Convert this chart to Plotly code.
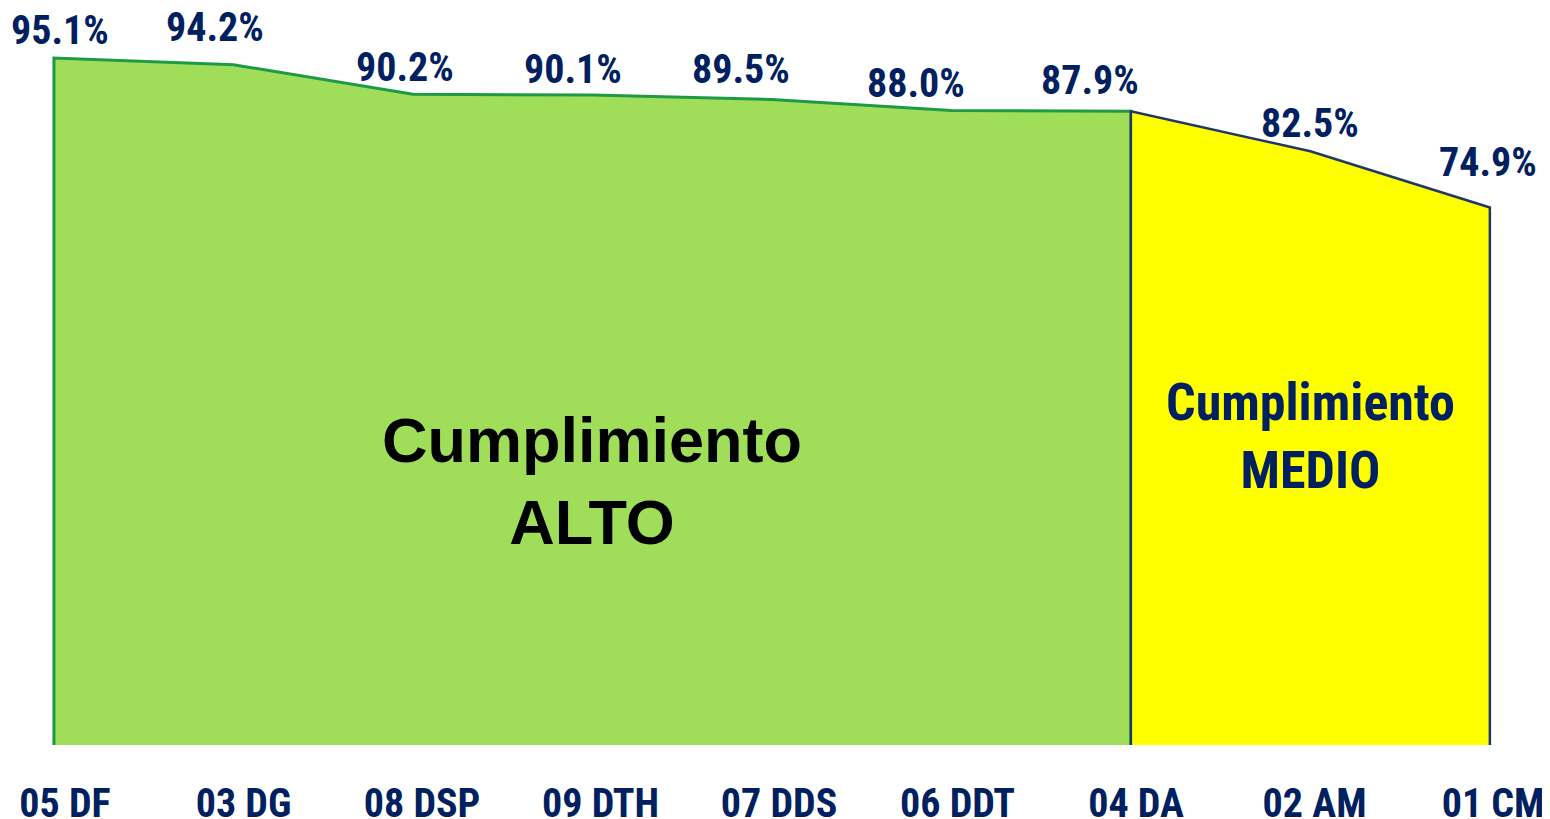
import plotly.graph_objects as go

categories = ["05 DF", "03 DG", "08 DSP", "09 DTH", "07 DDS", "06 DDT", "04 DA", "02 AM", "01 CM"]
values = [95.1, 94.2, 90.2, 90.1, 89.5, 88.0, 87.9, 82.5, 74.9]
labels = ["95.1%", "94.2%", "90.2%", "90.1%", "89.5%", "88.0%", "87.9%", "82.5%", "74.9%"]
alto_end = 6  # index of last "ALTO" category (04 DA)

# layout constants (page has an 8px body margin)
Y_MIN = 2.26
Y_MAX = 101.86
X_MIN = -0.256
X_MAX = 8.335
X2_MIN = -0.3193
X2_MAX = 8.319
NAVY = "#002060"
LABEL_FONT = "Liberation Sans Narrow, Arial Narrow, Roboto Condensed, Liberation Sans, Arial"
# per-label pixel offsets (style)
label_dx = [6, -18, -8, -19, -31, -35, -41, 0, -2]
label_dy = [28, 37, 27, 26, 30, 27, 31, 28, 45]

xs = list(range(len(categories)))

fig = go.Figure()

# Green (ALTO) polygon
gx = [xs[0]] + xs[:alto_end + 1] + [xs[alto_end]]
gy = [Y_MIN] + values[:alto_end + 1] + [Y_MIN]
fig.add_trace(go.Scatter(
    x=gx, y=gy, mode="lines", fill="toself",
    fillcolor="#A0DE5A", line=dict(color="#1E9A46", width=3),
    hoverinfo="skip", showlegend=False))

# Yellow (MEDIO) polygon
yx = [xs[alto_end]] + xs[alto_end:] + [xs[-1]]
yy = [Y_MIN] + values[alto_end:] + [Y_MIN]
fig.add_trace(go.Scatter(
    x=yx, y=yy, mode="lines", fill="toself",
    fillcolor="#FFFF00", line=dict(color="#1F3864", width=2.5),
    hoverinfo="skip", showlegend=False))

# invisible trace to carry the category axis
fig.add_trace(go.Scatter(
    x=xs, y=values, xaxis="x2", mode="markers", marker=dict(opacity=0),
    hoverinfo="skip", showlegend=False))

# data labels
for i, (xv, v, t) in enumerate(zip(xs, values, labels)):
    fig.add_annotation(
        x=xv, y=v, text=f"<b>{t}</b>", showarrow=False,
        xshift=label_dx[i], yshift=label_dy[i],
        font=dict(family=LABEL_FONT, size=40, color=NAVY))

# region labels
fig.add_annotation(
    x=3.0, y=37.9, text="<b>Cumplimiento<br>ALTO</b>", showarrow=False,
    font=dict(family="Liberation Sans, Arial", size=63, color="#000000"))
fig.add_annotation(
    x=7.0, y=44.0, text="<b>Cumplimiento<br>MEDIO</b>", showarrow=False,
    font=dict(family=LABEL_FONT, size=52, color=NAVY))

fig.update_layout(
    width=1542, height=811,
    margin=dict(l=0, r=0, t=0, b=74),
    paper_bgcolor="white", plot_bgcolor="white",
    xaxis=dict(
        range=[X_MIN, X_MAX], showticklabels=False, ticks="",
        showgrid=False, zeroline=False, showline=False, automargin=False),
    xaxis2=dict(
        range=[X2_MIN, X2_MAX], overlaying="x", side="bottom", anchor="y",
        tickmode="array", tickvals=xs, ticktext=[f"<b>{c}</b>" for c in categories],
        showgrid=False, zeroline=False, showline=False,
        ticks="outside", ticklen=23, tickcolor="rgba(0,0,0,0)",
        tickfont=dict(family=LABEL_FONT, size=40, color=NAVY, weight="bold"),
        automargin=False),
    yaxis=dict(range=[Y_MIN, Y_MAX], visible=False, automargin=False),
)

fig.write_html("out.html")
